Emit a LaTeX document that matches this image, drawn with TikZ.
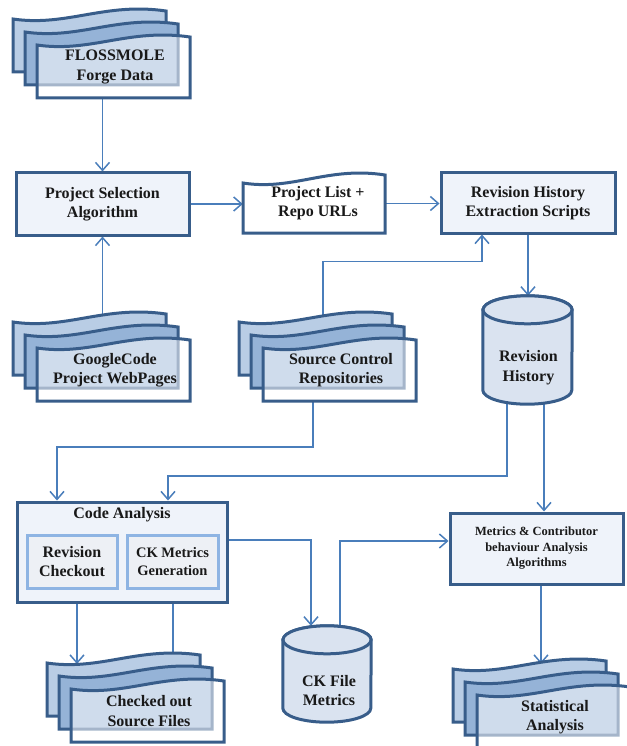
\documentclass[tikz,border=0pt]{standalone}
\usepackage{fontspec}
\setmainfont{Liberation Serif}
\usetikzlibrary{arrows.meta,backgrounds}
\definecolor{dkb}{HTML}{385D8A}
\definecolor{arrc}{HTML}{4A7EBB}
\definecolor{boxf}{HTML}{EFF3FA}
\definecolor{cylf}{HTML}{DAE3F0}
\definecolor{inb}{HTML}{8EB4E3}
\definecolor{inf}{HTML}{EDF0F5}
\definecolor{docbf}{HTML}{B9CDE5}
\definecolor{docmf}{HTML}{95B3D7}
% one document shape: left, top(right), width, height, style
\newcommand\onedoc[5]{%
  \draw[#5] (#1,#2+9) .. controls ({#1+0.35*#3},#2+17) and ({#1+0.6*#3},#2-8) .. ({#1+#3},#2+1)
    -- ({#1+#3},#2+#4) -- (#1,#2+#4) -- cycle;}
% multi document: name, back-left x, back-top y, text
\newcommand\mdoc[4]{%
  \onedoc{#2}{#3}{153}{62}{docb}
  \onedoc{#2+12}{#3+13}{153}{62}{docm}
  \onedoc{#2+24}{#3+26}{153}{62}{docf}
  \node[inner sep=0,minimum width=153pt,minimum height=62pt] (#1) at (#2+100.5,#3+57) {};
  \coordinate (#1-bt) at (#2+88,#3+4);
  \coordinate (#1-bl) at (#2+30,#3+10);
  \node[txt] (#1-t) at (#2+102,#3+57) {#4};}
% cylinder around a named node: name, x radius
\newcommand\cyl[2]{%
  \path[cylstyle] ([yshift=-14pt]#1.north west) -- ([yshift=14pt]#1.south west)
    arc[start angle=180,end angle=360,x radius=#2,y radius=14pt]
    -- ([yshift=-14pt]#1.north east)
    arc[start angle=0,end angle=180,x radius=#2,y radius=14pt] -- cycle;
  \draw[cylstyle] ([yshift=-14pt]#1.north) ellipse[x radius=#2,y radius=14pt];}
\begin{document}
\begin{tikzpicture}[x=1pt,y=-1pt,
  txt/.style={font=\bfseries\fontsize{16}{19.5}\selectfont,align=center,inner sep=0,text=black!90},
  box/.style={draw=dkb,line width=3pt,fill=boxf,inner sep=0,align=center,
    font=\bfseries\fontsize{16}{19.5}\selectfont,text=black!90},
  inbox/.style={draw=inb,line width=3pt,fill=inf,inner sep=0,align=center,
    font=\bfseries\fontsize{16}{19.5}\selectfont,text=black!90},
  arr/.style={draw=arrc,line width=1.5pt,-{Straight Barb[length=8pt,width=14pt]}},
  docb/.style={draw=dkb,line width=3pt,fill=docbf},
  docm/.style={draw=dkb,line width=3pt,fill=docmf},
  docf/.style={draw=dkb,line width=3pt,fill=white,fill opacity=0.55},
  docs/.style={draw=dkb,line width=3pt,fill=white},
  cylstyle/.style={draw=dkb,line width=3pt,fill=cylf},
  ghost/.style={inner sep=0}]
\useasboundingbox (0,0) rectangle (626,746);

% multi documents
\mdoc{fl}{13}{10}{FLOSSMOLE\\Forge Data}
\mdoc{gc}{13}{313}{GoogleCode\\Project WebPages}
\mdoc{sc}{239}{313}{Source Control\\Repositories}
\mdoc{co}{47}{654}{Checked out\\Source Files}
\mdoc{sa}{453}{660}{Statistical\\Analysis}

% single document
\onedoc{243}{174}{142}{59}{docs}
\node[ghost,minimum width=142pt,minimum height=59pt] (plist) at (314,203.5) {};
\node[txt] (plist-t) at (318,203) {Project List +\\Repo URLs};

% process boxes
\node[box,minimum width=173pt,minimum height=62pt] (psel) at (102.5,204) {Project Selection\\Algorithm};
\node[box,minimum width=174pt,minimum height=60pt] (rhx) at (528,203) {Revision History\\Extraction Scripts};
\node[box,minimum width=173pt,minimum height=71pt,font=\bfseries\fontsize{12.5}{15.5}\selectfont] (mt) at (536.5,548.5)
  {Metrics \& Contributor\\behaviour Analysis\\Algorithms};
\node[box,minimum width=210pt,minimum height=100pt] (ca) at (122,552) {};
\node[txt] (ca-t) at (122,515) {Code Analysis};
\node[inbox,minimum width=90pt,minimum height=53pt] (rc) at (72,561.5) {Revision\\Checkout};
\node[inbox,minimum width=91pt,minimum height=53pt,font=\bfseries\fontsize{14.5}{18}\selectfont] (ckg) at (172.5,561.5) {CK Metrics\\Generation};

% cylinders
\node[ghost,minimum width=89pt,minimum height=108pt] (rh) at (527.5,350) {};
\cyl{rh}{44.5pt}
\node[txt] (rh-t) at (528.5,367.5) {Revision\\History};
\node[ghost,minimum width=88pt,minimum height=96pt] (ck) at (327,674) {};
\cyl{ck}{44pt}
\node[txt] (ck-t) at (329,690.5) {CK File\\Metrics};

% connectors
\begin{scope}[on background layer]
\draw[arr] (psel.north |- fl.south) -- (psel.north);
\draw[arr] (psel.south |- gc.north) -- (psel.south);
\draw[arr] (psel.east) -- (psel.east -| plist.west);
\draw[arr] (plist.east) -- (plist.east -| rhx.west);
\draw[arr] ([xshift=-16.5pt]sc.north) |- ([xshift=-46pt,yshift=-27pt]rhx.south) -- ([xshift=-46pt]rhx.south);
\draw[arr] (rhx.south) -- (rhx.south |- rh.north);
\draw[arr] ([xshift=-26.5pt]sc.south) -- ++(0,46) -| ([xshift=-65pt]ca.north);
\draw[arr] ([xshift=-20.5pt]rh.south) -- ++(0,72) -| ([xshift=46pt]ca.north);
\draw[arr] ([xshift=16.5pt]rh.south) -- ([xshift=16.5pt]rh.south |- mt.north);
\draw[arr] ([yshift=12pt]ca.east) -| ([xshift=-16pt]ck.north);
\draw[arr] ([xshift=13pt]ck.north) |- ([yshift=7.5pt]mt.west);
\draw[arr] (sa-bt |- mt.south) -- (sa-bt);
\draw[arr] (co-bl |- rc.south) -- (co-bl);
\draw[arr] ([xshift=0.5pt]ckg.south |- co) -- ([xshift=0.5pt]ckg.south);
\end{scope}
\end{tikzpicture}
\end{document}
